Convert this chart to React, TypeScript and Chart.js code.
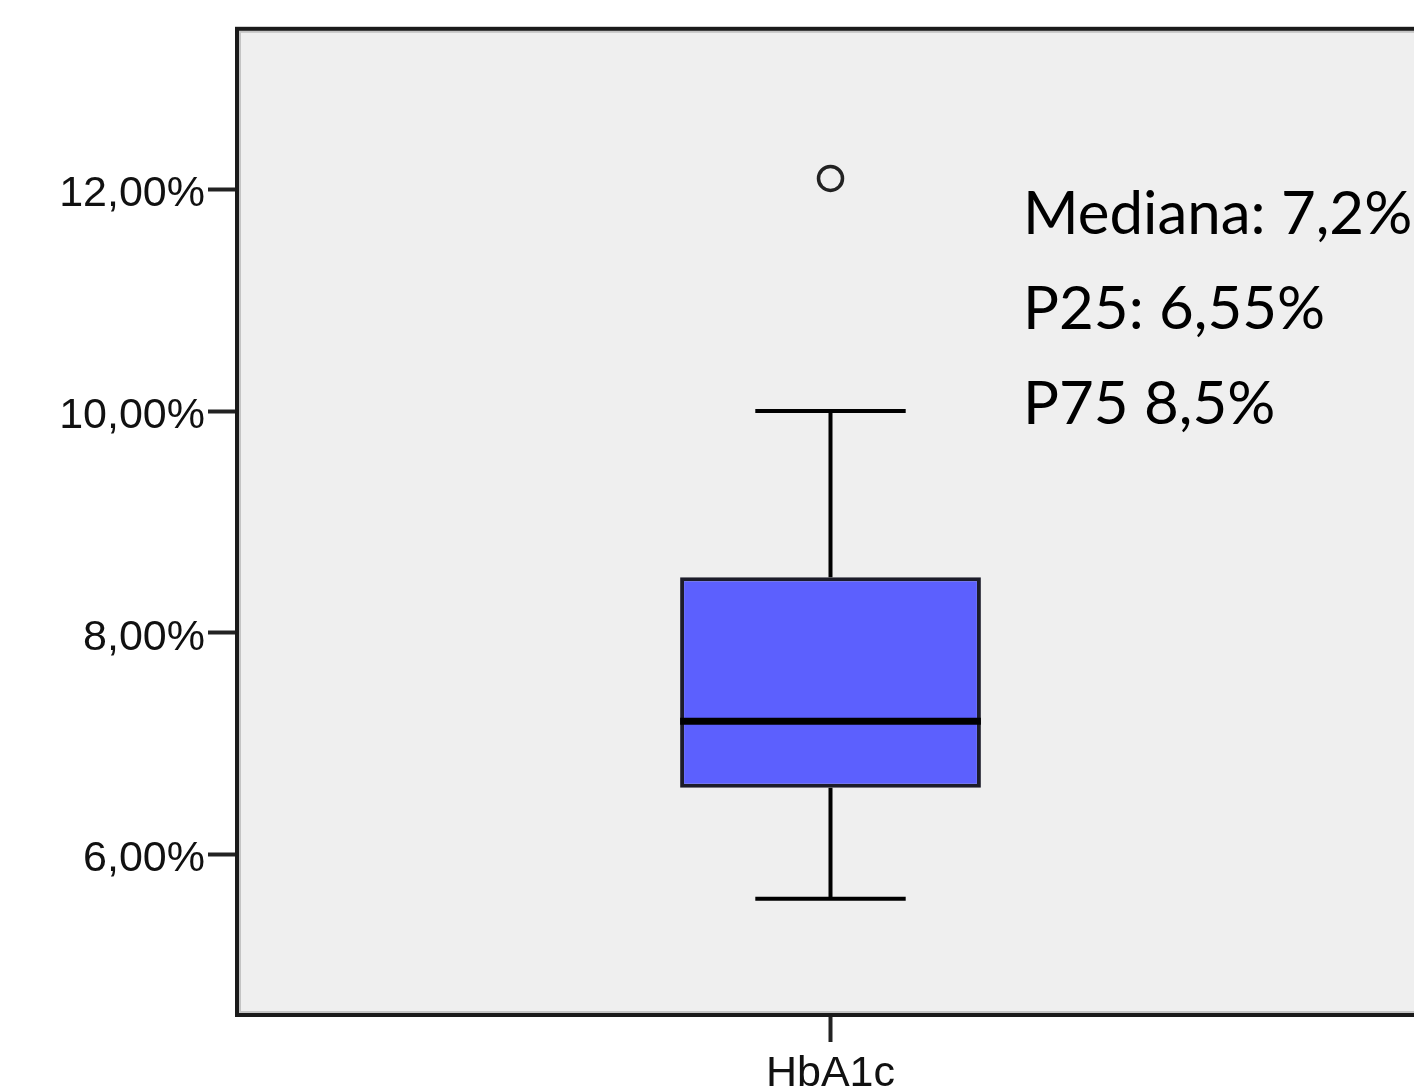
import React, { useEffect, useRef } from "react";
import { Chart, registerables } from "chart.js";

Chart.register(...registerables);

const categories = ["HbA1c"];
const q1Values = [6.6];
const q3Values = [8.5];
const medianValues = [7.2];
const whiskerLow = [5.6];
const whiskerHigh = [10.0];
const outlierValues = [12.1];
const yTicks = [6, 8, 10, 12];
const yMin = 4.55;
const yMax = 13.45;
const annotationLines = ["Mediana: 7,2%", "P25: 6,55%", "P75 8,5%"];

const fmt = (v: number) => v.toFixed(2).replace(".", ",") + "%";

const bgPlugin = {
  id: "plotBg",
  beforeDraw(chart: any) {
    const { ctx, chartArea: a } = chart;
    ctx.save();
    ctx.fillStyle = "#efefef";
    ctx.fillRect(a.left, a.top, a.right - a.left, a.bottom - a.top);
    ctx.restore();
  },
  afterDraw(chart: any) {
    const { ctx, chartArea: a } = chart;
    ctx.save();
    ctx.strokeStyle = "#c4c4c4";
    ctx.lineWidth = 2;
    ctx.strokeRect(a.left + 3, a.top + 3, a.right - a.left - 6, a.bottom - a.top - 6);
    ctx.strokeStyle = "#1a1a1a";
    ctx.lineWidth = 4;
    ctx.strokeRect(a.left, a.top, a.right - a.left, a.bottom - a.top);
    ctx.fillStyle = "#000";
    ctx.font = "60px Lato";
    ctx.textAlign = "left";
    ctx.textBaseline = "alphabetic";
    annotationLines.forEach((t, i) => {
      ctx.fillText(t, 1023, 234 + i * 95);
    });
    ctx.restore();
  },
};

const boxPlugin = {
  id: "boxParts",
  afterDatasetsDraw(chart: any) {
    const { ctx } = chart;
    const y = chart.scales.y;
    const meta = chart.getDatasetMeta(0);
    ctx.save();
    ctx.strokeStyle = "#000";
    meta.data.forEach((bar: any, i: number) => {
      const x = bar.x;
      const w = bar.width;
      const yQ1 = y.getPixelForValue(q1Values[i]);
      const yQ3 = y.getPixelForValue(q3Values[i]);
      const yLo = y.getPixelForValue(whiskerLow[i]);
      const yHi = y.getPixelForValue(whiskerHigh[i]);
      const yMed = y.getPixelForValue(medianValues[i]);
      ctx.lineWidth = 4;
      ctx.beginPath();
      ctx.moveTo(x, yQ3);
      ctx.lineTo(x, yHi);
      ctx.moveTo(x, yQ1);
      ctx.lineTo(x, yLo);
      ctx.moveTo(x - w / 4, yHi);
      ctx.lineTo(x + w / 4, yHi);
      ctx.moveTo(x - w / 4, yLo);
      ctx.lineTo(x + w / 4, yLo);
      ctx.stroke();
      ctx.lineWidth = 7;
      ctx.beginPath();
      ctx.moveTo(x - w / 2, yMed);
      ctx.lineTo(x + w / 2, yMed);
      ctx.stroke();
    });
    ctx.restore();
  },
};

export default function App() {
  const ref = useRef<HTMLCanvasElement>(null);
  useEffect(() => {
    if (!ref.current) return;
    const chart = new Chart(ref.current, {
      type: "bar",
      data: {
        labels: categories,
        datasets: [
          {
            type: "bar",
            data: categories.map((_, i) => [q1Values[i], q3Values[i]]) as any,
            backgroundColor: "#5c60fe",
            borderColor: "#1c1c2a",
            borderWidth: 4,
            borderSkipped: false,
            barPercentage: 0.2534,
            categoryPercentage: 1,
          },
          {
            type: "line",
            data: outlierValues,
            showLine: false,
            pointRadius: 12,
            pointBorderWidth: 3.5,
            pointBorderColor: "#222",
            pointBackgroundColor: "rgba(0,0,0,0)",
          } as any,
        ],
      },
      options: {
        responsive: false,
        animation: false,
        layout: { padding: { top: 27, right: 16, left: 0, bottom: 0 } },
        plugins: { legend: { display: false }, tooltip: { enabled: false } },
        scales: {
          x: {
            type: "category",
            offset: true,
            grid: {
              display: true,
              offset: false,
              drawOnChartArea: false,
              drawTicks: true,
              tickLength: 27,
              tickWidth: 4,
              tickColor: "#222",
            },
            border: { display: false },
            ticks: {
              color: "#111",
              font: { family: "Liberation Sans", size: 43 },
              padding: 6,
            },
            afterFit(scale: any) {
              scale.height = 75;
            },
          },
          y: {
            min: yMin,
            max: yMax,
            grid: {
              drawOnChartArea: false,
              drawTicks: true,
              tickLength: 29,
              tickWidth: 4,
              tickColor: "#222",
            },
            border: { display: false },
            afterBuildTicks(scale: any) {
              scale.ticks = yTicks.map((v) => ({ value: v }));
            },
            ticks: {
              color: "#111",
              font: { family: "Liberation Sans", size: 43 },
              padding: 3,
              labelOffset: 5,
              callback: (v: any) => fmt(Number(v)),
            },
            afterFit(scale: any) {
              scale.width = 237;
            },
          },
        },
      },
      plugins: [bgPlugin, boxPlugin],
    });
    return () => chart.destroy();
  }, []);
  return (
    <div
      style={{
        position: "absolute",
        left: 0,
        top: 0,
        width: 1414,
        height: 1090,
        overflow: "hidden",
        background: "#fff",
      }}
    >
      <canvas ref={ref} width={1440} height={1090} style={{ width: 1440, height: 1090, display: "block" }} />
    </div>
  );
}
